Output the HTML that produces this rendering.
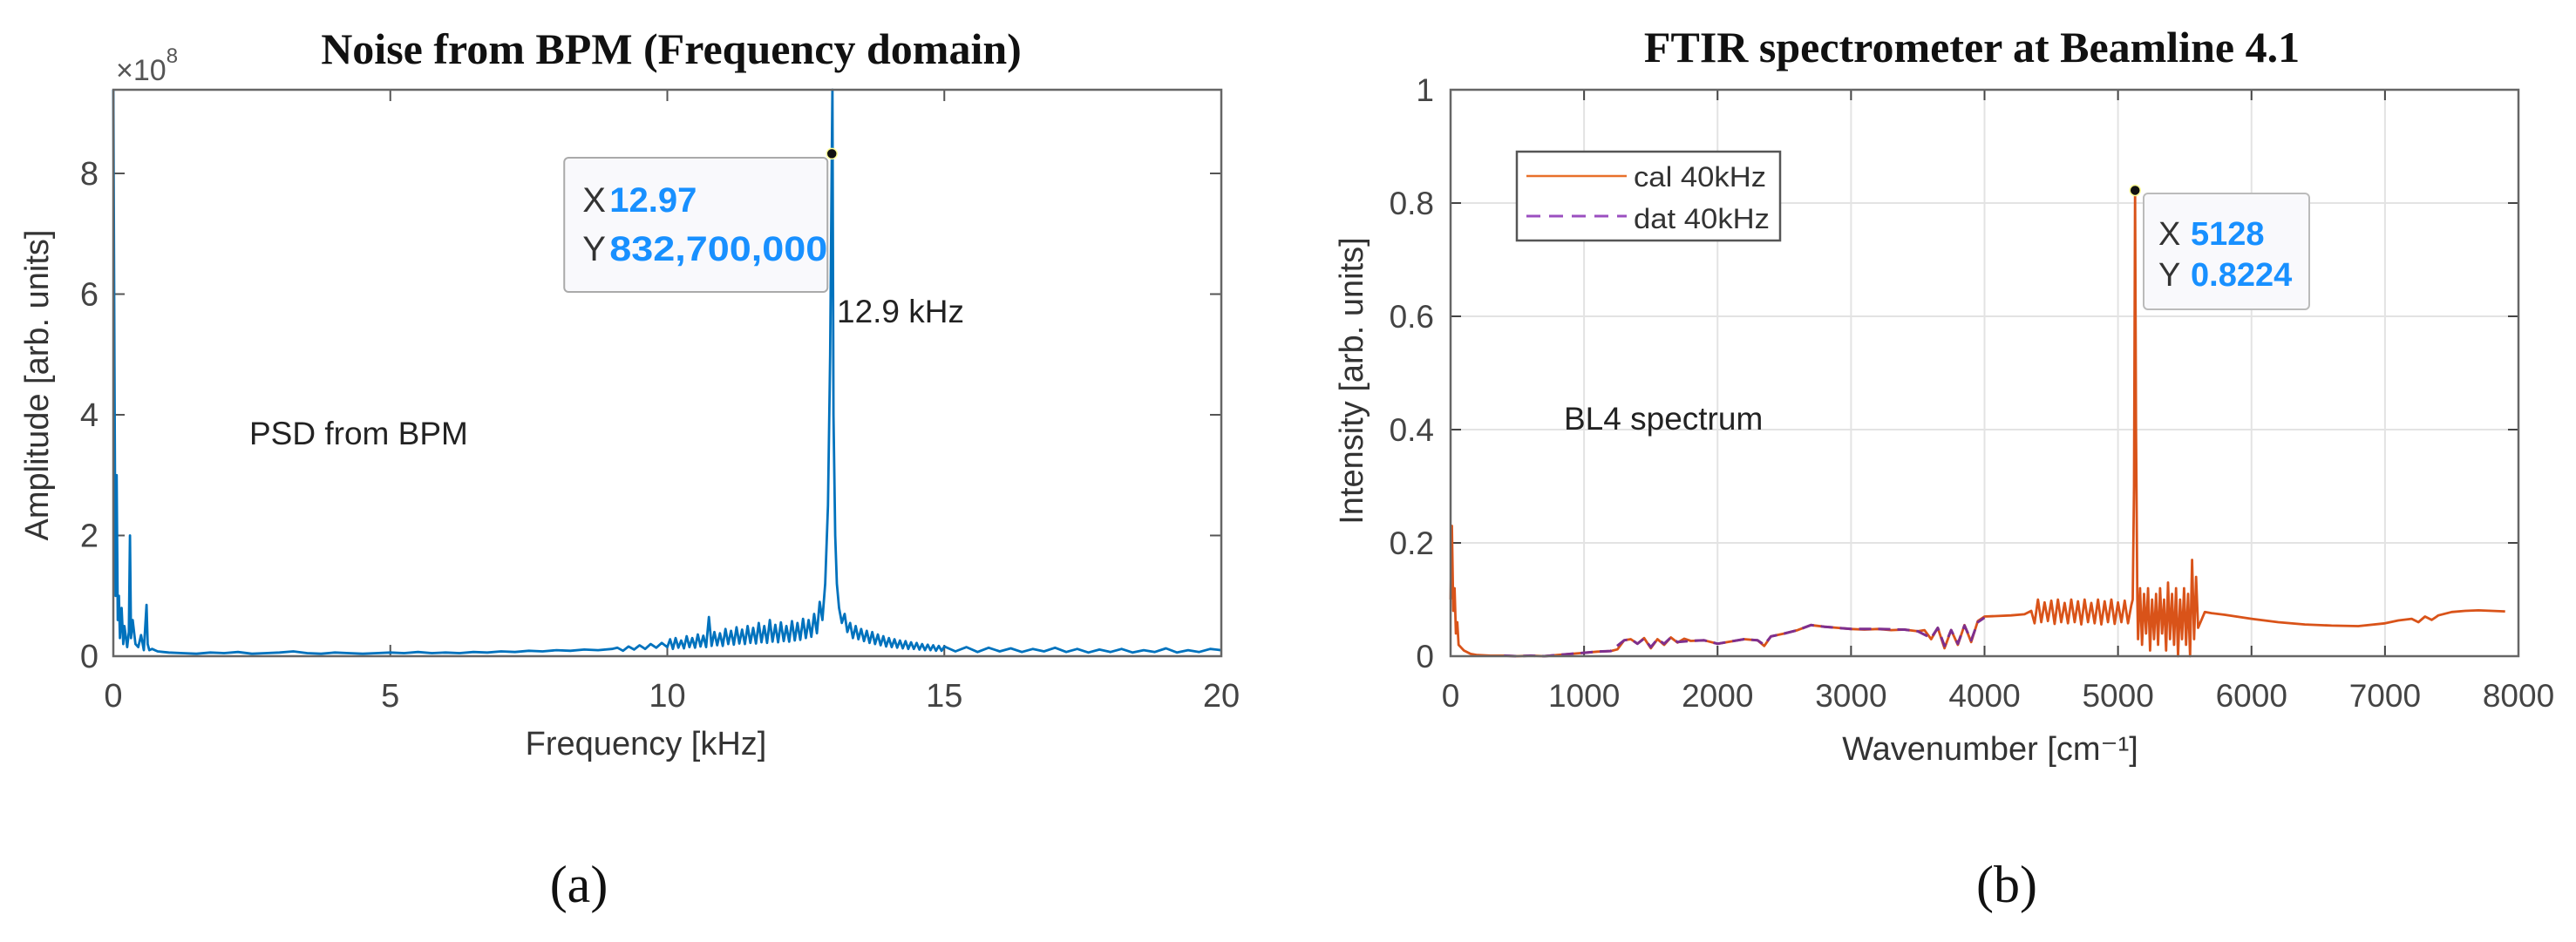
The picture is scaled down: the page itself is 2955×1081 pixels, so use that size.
<!DOCTYPE html>
<html><head><meta charset="utf-8"><style>
html,body{margin:0;padding:0;background:#fff;}
svg{display:block;}
text{font-family:"Liberation Sans",sans-serif;}
.serif{font-family:"Liberation Serif",serif;}
</style></head><body>
<svg id="fig" width="2955" height="1081" viewBox="0 0 2955 1081" xmlns="http://www.w3.org/2000/svg">
<rect x="0" y="0" width="2955" height="1081" fill="#fff"/>
<g id="chartA"></g>
<g id="chartB"></g>
</svg>
<script>
// ---------- Chart (a) data ----------
const freqA = [0,0.02,0.04,0.06,0.08,0.1,0.12,0.15,0.18,0.2,0.25,0.28,0.3,0.32,0.35,0.4,0.45,0.5,0.55,0.6,0.62,0.65,0.7,0.8,0.9,1.0,
1.25,1.5,1.75,2,2.25,2.5,2.75,3,3.25,3.5,3.75,4,4.25,4.5,4.75,5,5.25,5.5,5.75,6,6.25,6.5,6.75,7,7.25,7.5,7.75,8,8.25,8.5,8.75,9,
9.1,9.2,9.3,9.4,9.5,9.6,9.7,9.8,9.9,10.0,
10.05,10.1,10.15,10.2,10.25,10.3,10.35,10.4,10.45,10.5,10.55,10.6,10.65,10.7,10.75,10.8,10.85,10.9,10.95,11.0,
11.05,11.1,11.15,11.2,11.25,11.3,11.35,11.4,11.45,11.5,11.55,11.6,11.65,11.7,11.75,11.8,11.85,11.9,11.95,12.0,
12.05,12.1,12.15,12.2,12.25,12.3,12.35,12.4,12.45,12.5,12.55,12.6,12.65,12.7,12.75,12.8,
12.85,12.9,12.94,12.97,12.98,13.0,13.03,13.06,13.1,
13.15,13.2,13.25,13.3,13.35,13.4,13.45,13.5,13.55,13.6,13.65,13.7,13.75,13.8,13.85,13.9,13.95,14.0,14.05,14.1,
14.15,14.2,14.25,14.3,14.35,14.4,14.45,14.5,14.55,14.6,14.65,14.7,14.75,14.8,14.85,14.9,14.95,15.0,
15.2,15.4,15.6,15.8,16,16.2,16.4,16.6,16.8,17,17.2,17.4,17.6,17.8,18,18.2,18.4,18.6,18.8,19,19.2,19.4,19.6,19.8,20];
const ampA = [9.4,4.8,1.0,3.0,0.6,1.0,0.3,0.8,0.2,0.5,0.15,0.4,2.0,0.3,0.6,0.2,0.15,0.35,0.1,0.85,0.2,0.1,0.12,0.08,0.07,0.06,
0.05,0.04,0.06,0.05,0.07,0.04,0.05,0.06,0.08,0.05,0.04,0.06,0.05,0.04,0.05,0.06,0.05,0.07,0.05,0.06,0.05,0.07,0.06,0.08,0.07,0.09,0.08,0.10,0.09,0.11,0.10,0.12,
0.14,0.09,0.16,0.11,0.18,0.12,0.2,0.14,0.22,0.15,
0.28,0.12,0.3,0.14,0.26,0.13,0.33,0.15,0.3,0.14,0.36,0.16,0.34,0.15,0.65,0.17,0.4,0.18,0.38,0.17,
0.45,0.2,0.42,0.19,0.48,0.21,0.44,0.2,0.5,0.22,0.47,0.21,0.55,0.23,0.5,0.22,0.6,0.24,0.52,0.23,
0.56,0.25,0.5,0.24,0.58,0.26,0.55,0.27,0.62,0.3,0.6,0.32,0.7,0.38,0.9,0.6,
1.2,2.5,5.0,8.327,9.4,4.0,2.0,1.2,0.8,
0.55,0.7,0.4,0.55,0.3,0.5,0.28,0.45,0.25,0.42,0.22,0.4,0.2,0.36,0.18,0.33,0.16,0.3,0.15,0.28,
0.14,0.26,0.13,0.25,0.12,0.23,0.12,0.22,0.11,0.2,0.1,0.19,0.1,0.18,0.09,0.17,0.09,0.16,
0.08,0.15,0.07,0.14,0.08,0.13,0.07,0.12,0.08,0.14,0.07,0.12,0.06,0.11,0.07,0.12,0.06,0.1,0.07,0.13,0.06,0.1,0.07,0.12,0.1];
const xTicksA = [0,5,10,15,20];
const yTicksA = [0,2,4,6,8];
const tipA = [12.97, 8.327];

// ---------- Chart (b) data ----------
const wnCal = [0,10,20,30,40,50,60,80,100,150,200,300,400,500,600,700,800,900,1000,1100,1200,1250,1300,1350,1400,1450,1500,1550,1600,1650,1700,1750,1800,1900,2000,2100,2200,2300,2350,2400,2500,2600,2700,2800,2900,3000,3100,3200,3300,3400,3500,3550,3600,3650,3700,3750,3800,3850,3900,3950,4000,4100,4200,4300,4350,
4375,4400,4425,4450,4475,4500,4525,4550,4575,4600,4625,4650,4675,4700,4725,4750,4775,4800,4825,4850,4875,4900,4925,4950,4975,5000,5025,5050,5075,5100,
5110,5120,5128,5135,5145,
5150,5165,5180,5195,5210,5225,5240,5255,5270,5285,5300,5315,5330,5345,5360,5375,5390,5405,5420,5435,5450,5465,5480,5495,5510,5525,5540,5555,5570,5585,5600,
5650,5700,5800,6000,6200,6400,6600,6800,7000,7100,7200,7250,7300,7350,7400,7500,7600,7700,7800,7900];
const cal = [0.1,0.23,0.08,0.12,0.04,0.06,0.02,0.015,0.01,0.004,0.002,0.001,0.001,0,0.001,0,0.002,0.004,0.006,0.008,0.009,0.012,0.028,0.03,0.022,0.032,0.014,0.03,0.02,0.033,0.024,0.031,0.027,0.028,0.022,0.026,0.03,0.028,0.018,0.035,0.04,0.046,0.055,0.052,0.05,0.048,0.047,0.048,0.046,0.047,0.044,0.046,0.03,0.05,0.014,0.046,0.02,0.055,0.025,0.062,0.07,0.071,0.072,0.074,0.08,
0.058,0.1,0.06,0.095,0.062,0.098,0.057,0.1,0.06,0.094,0.058,0.1,0.06,0.097,0.056,0.1,0.06,0.094,0.058,0.1,0.056,0.097,0.06,0.1,0.057,0.095,0.06,0.098,0.058,0.09,
0.1,0.3,0.8224,0.4,0.1,
0.03,0.12,0.02,0.11,0.04,0.12,0.01,0.1,0.03,0.11,0.02,0.12,0.04,0.1,0.01,0.13,0.03,0.11,0.02,0.12,0.0,0.1,0.03,0.12,0.02,0.11,0.0,0.17,0.03,0.14,0.05,
0.078,0.076,0.073,0.066,0.06,0.056,0.054,0.053,0.058,0.063,0.066,0.06,0.07,0.064,0.072,0.078,0.08,0.081,0.08,0.079];
const wnDat = [400,500,600,700,800,900,1000,1100,1200,1300,1350,1400,1450,1500,1550,1600,1650,1700,1800,1900,2000,2100,2200,2300,2350,2400,2500,2600,2700,2800,3000,3200,3400,3500,3600,3650,3700,3750,3800,3850,3900,3950,4000];
const dat = [0.001,0,0.001,0,0.002,0.004,0.006,0.008,0.009,0.028,0.03,0.022,0.031,0.016,0.03,0.022,0.033,0.025,0.027,0.028,0.022,0.026,0.03,0.028,0.02,0.035,0.04,0.046,0.055,0.052,0.048,0.048,0.047,0.044,0.032,0.05,0.018,0.046,0.022,0.054,0.028,0.06,0.068];
const xTicksB = [0,1000,2000,3000,4000,5000,6000,7000,8000];
const yTicksB = [0,0.2,0.4,0.6,0.8,1];
const yTickLabelsB = ["0","0.2","0.4","0.6","0.8","1"];
const tipB = [5128, 0.8224];

const NS = "http://www.w3.org/2000/svg";
function mk(parent, tag, attrs, txt){
  const e = document.createElementNS(NS, tag);
  for (const k in attrs) e.setAttribute(k, attrs[k]);
  if (txt !== undefined) e.textContent = txt;
  parent.appendChild(e); return e;
}

// ---------- Chart A ----------
const A = {l:130, r:1401, t:103, b:753, xmax:20, ymax:(753-103)/69.25};
const xA = f => A.l + f/A.xmax*(A.r-A.l);
const yA = v => A.b - Math.min(v, A.ymax)/A.ymax*(A.b-A.t);
const gA = document.getElementById('chartA');

let t = mk(gA,'text',{x:770,y:73,'font-size':50,'font-weight':'bold','text-anchor':'middle',class:'serif',fill:'#111'},'Noise from BPM (Frequency domain)');



xTicksA.forEach(v=>{
  const x = xA(v);
  let l = mk(gA,'line',{x1:x,x2:x,y1:A.b,y2:A.b-13,stroke:'#555','stroke-width':2});
  
  
  mk(gA,'line',{x1:x,x2:x,y1:A.t,y2:A.t+13,stroke:'#555','stroke-width':2});
  let tx = mk(gA,'text',{x:x,y:811,'font-size':38,'text-anchor':'middle',fill:'#444'},String(v));
  
  
});
yTicksA.forEach(v=>{
  const y = yA(v);
  let l = mk(gA,'line',{x1:A.l,x2:A.l+13,y1:y,y2:y,stroke:'#555','stroke-width':2});
  
  
  mk(gA,'line',{x1:A.r,x2:A.r-13,y1:y,y2:y,stroke:'#555','stroke-width':2});
  let tx = mk(gA,'text',{x:113,y:y+13,'font-size':38,'text-anchor':'end',fill:'#444'},String(v));
  
  
});
let ex = mk(gA,'text',{x:133,y:92,'font-size':34,fill:'#555'});


mk(ex,'tspan',{},'×10');
mk(ex,'tspan',{dy:-20,'font-size':24},'8');

// series
let dA = freqA.map((f,i)=>(i?'L':'M')+xA(f).toFixed(1)+' '+yA(ampA[i]).toFixed(1)).join(' ');
let pA = mk(gA,'path',{d:dA,fill:'none',stroke:'#0072bd','stroke-width':2.8,'stroke-linejoin':'round'});



let boxA = mk(gA,'rect',{x:A.l,y:A.t,width:A.r-A.l,height:A.b-A.t,fill:'none',stroke:'#666','stroke-width':2.5});



let ylA = mk(gA,'text',{x:0,y:0,'font-size':38,'text-anchor':'middle',fill:'#333',transform:'translate(55,442) rotate(-90)'},'Amplitude [arb. units]');


let xlA = mk(gA,'text',{x:741,y:866,'font-size':38,'text-anchor':'middle',fill:'#333'},'Frequency [kHz]');


let an1 = mk(gA,'text',{x:286,y:510,'font-size':37,fill:'#222'},'PSD from BPM');


let an2 = mk(gA,'text',{x:960,y:370,'font-size':37,fill:'#222'},'12.9 kHz');



// datatip A
const tx0 = xA(tipA[0]), ty0 = yA(tipA[1]);
let tbA = mk(gA,'rect',{x:tx0-307,y:181,width:302,height:154,rx:5,fill:'#f9f9fc',stroke:'#aaa','stroke-width':2});


mk(gA,'text',{x:tx0-286,y:243,'font-size':40,fill:'#333'},'X');
mk(gA,'text',{x:tx0-255,y:243,'font-size':40,'font-weight':'bold',fill:'#1890ff'},'12.97');
mk(gA,'text',{x:tx0-286,y:299,'font-size':40,fill:'#333'},'Y');
mk(gA,'text',{x:tx0-255,y:299,'font-size':40,'font-weight':'bold',fill:'#1890ff',textLength:250,lengthAdjust:'spacingAndGlyphs'},'832,700,000');
let dotA = mk(gA,'circle',{cx:tx0,cy:ty0,r:6,fill:'#111',stroke:'#ff9',"stroke-width":1.5});



let capA = mk(gA,'text',{x:664,y:1035,'font-size':60,'text-anchor':'middle',class:'serif',fill:'#111'},'(a)');



// ---------- Chart B ----------
const B = {l:1664, r:2889, t:103, b:753, xmax:8000, ymax:1};
const xB = w => B.l + w/B.xmax*(B.r-B.l);
const yB = v => B.b - v/B.ymax*(B.b-B.t);
const gB = document.getElementById('chartB');

let tB = mk(gB,'text',{x:2262,y:71,'font-size':50,'font-weight':'bold','text-anchor':'middle',class:'serif',fill:'#111'},'FTIR spectrometer at Beamline 4.1');



xTicksB.forEach(v=>{
  const x = xB(v);
  let g = mk(gB,'line',{x1:x,x2:x,y1:B.t,y2:B.b,stroke:'#e3e3e3','stroke-width':2});
  
  
  mk(gB,'line',{x1:x,x2:x,y1:B.b,y2:B.b-12,stroke:'#444','stroke-width':2});
  mk(gB,'line',{x1:x,x2:x,y1:B.t,y2:B.t+12,stroke:'#444','stroke-width':2});
  let tx = mk(gB,'text',{x:x,y:811,'font-size':37,'text-anchor':'middle',fill:'#444'},String(v));
  
  
});
yTicksB.forEach((v,i)=>{
  const y = yB(v);
  let g = mk(gB,'line',{x1:B.l,x2:B.r,y1:y,y2:y,stroke:'#e3e3e3','stroke-width':2});
  
  
  mk(gB,'line',{x1:B.l,x2:B.l+12,y1:y,y2:y,stroke:'#444','stroke-width':2});
  mk(gB,'line',{x1:B.r,x2:B.r-12,y1:y,y2:y,stroke:'#444','stroke-width':2});
  let tx = mk(gB,'text',{x:1645,y:y+13,'font-size':37,'text-anchor':'end',fill:'#444'},yTickLabelsB[i]);
  
  
});

let dCal = wnCal.map((w,i)=>(i?'L':'M')+xB(w).toFixed(1)+' '+yB(cal[i]).toFixed(1)).join(' ');
let pCal = mk(gB,'path',{d:dCal,fill:'none',stroke:'#d95319','stroke-width':2.8,'stroke-linejoin':'round'});


let dDat = wnDat.map((w,i)=>(i?'L':'M')+xB(w).toFixed(1)+' '+yB(dat[i]).toFixed(1)).join(' ');
let pDat = mk(gB,'path',{d:dDat,fill:'none',stroke:'#7e2f8e','stroke-width':3,'stroke-dasharray':'14 8','stroke-linejoin':'round'});



let boxB = mk(gB,'rect',{x:B.l,y:B.t,width:B.r-B.l,height:B.b-B.t,fill:'none',stroke:'#666','stroke-width':2.5});



// legend
let lg = mk(gB,'g',{});


mk(lg,'rect',{x:1740,y:174,width:302,height:102,fill:'#fff',stroke:'#555','stroke-width':2.5});
let le1 = mk(lg,'line',{x1:1751,x2:1866,y1:202,y2:202,stroke:'#e8702a','stroke-width':2.5});


mk(lg,'text',{x:1874,y:214,'font-size':32,fill:'#333',textLength:152,lengthAdjust:'spacingAndGlyphs'},'cal 40kHz');
let le2 = mk(lg,'line',{x1:1751,x2:1866,y1:248,y2:248,stroke:'#9b4fc0','stroke-width':3,'stroke-dasharray':'16 10'});


mk(lg,'text',{x:1874,y:262,'font-size':32,fill:'#333',textLength:156,lengthAdjust:'spacingAndGlyphs'},'dat 40kHz');

let ylB = mk(gB,'text',{x:0,y:0,'font-size':38,'text-anchor':'middle',fill:'#333',transform:'translate(1563,437) rotate(-90)'},'Intensity [arb. units]');


let xlB = mk(gB,'text',{x:2283,y:872,'font-size':38,'text-anchor':'middle',fill:'#333'},'Wavenumber [cm⁻¹]');


let an3 = mk(gB,'text',{x:1794,y:493,'font-size':37,fill:'#222'},'BL4 spectrum');



const bx0 = xB(tipB[0]), by0 = yB(tipB[1]);
let tbB = mk(gB,'rect',{x:2459,y:222,width:190,height:133,rx:5,fill:'#f9f9fc',stroke:'#bbb','stroke-width':2});


mk(gB,'text',{x:2476,y:281,'font-size':38,fill:'#333'},'X');
mk(gB,'text',{x:2513,y:281,'font-size':38,'font-weight':'bold',fill:'#1890ff'},'5128');
mk(gB,'text',{x:2476,y:328,'font-size':38,fill:'#333'},'Y');
mk(gB,'text',{x:2513,y:328,'font-size':38,'font-weight':'bold',fill:'#1890ff'},'0.8224');
let dotB = mk(gB,'circle',{cx:bx0,cy:by0,r:6,fill:'#111',stroke:'#ff9','stroke-width':1.5});



let capB = mk(gB,'text',{x:2302,y:1035,'font-size':60,'text-anchor':'middle',class:'serif',fill:'#111'},'(b)');


</script>
</body></html>
